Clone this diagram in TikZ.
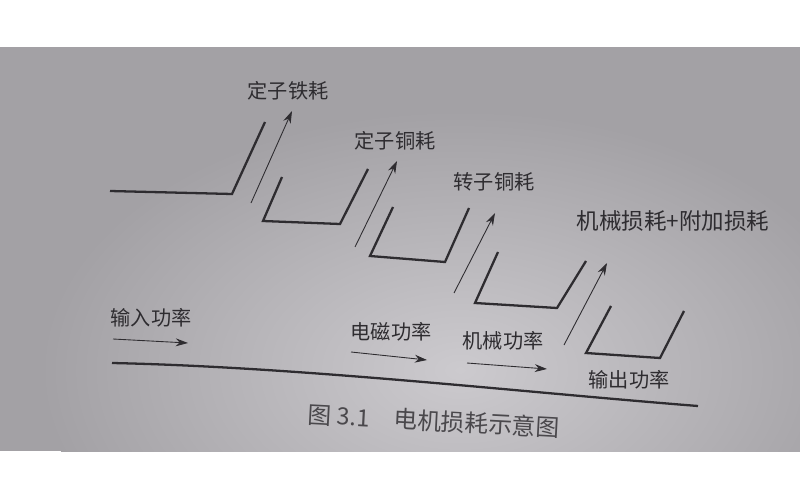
\documentclass[tikz,border=0pt]{standalone}
\usepackage{fontspec}
\newfontfamily\cjk{Noto Sans CJK SC}
\usetikzlibrary{arrows.meta}
\definecolor{paperbase}{HTML}{A3A1A5}
\definecolor{paperlight}{HTML}{CCCACE}
\definecolor{ink}{HTML}{2E2C30}
\definecolor{captionink}{HTML}{4A484C}
\tikzset{
  wall/.style={line width=1.3pt, draw=ink, line join=miter},
  flow/.style={-{Stealth[length=7pt,width=4.5pt]}, line width=0.5pt, draw=ink},
  lbl/.style={font=\cjk\fontsize{11.5}{14}\selectfont, text=ink, inner sep=0pt}
}
\begin{document}
\begin{tikzpicture}[x=0.02cm,y=-0.02cm]
\useasboundingbox (0,0) rectangle (800,500);
\fill[white] (0,0) rectangle (800,500);
\begin{scope}
\clip (0,47) rectangle (800,451);
\fill[paperbase] (0,47) rectangle (800,451);
\shade[inner color=paperlight, outer color=paperbase] (460,370) ellipse (420 and 260);
\end{scope}

\draw[wall] (110,191) -- (232,194) -- (265,122);
\draw[wall] (282,177) -- (263,221) -- (340,224) -- (368,169);
\draw[wall] (393,207) -- (370,256) -- (445,262) -- (469,208);
\draw[wall] (498,252) -- (475,303) -- (557,308) -- (586,261);
\draw[wall] (611,306) -- (586,353) -- (660,358) -- (684,311);
\draw[wall] (112,363) .. controls (300,367) and (520,392) .. (698,406);

\node[lbl] (ironloss) at (288,91) {定子铁耗};
\node[lbl] (statorcu) at (395,141) {定子铜耗};
\node[lbl] (rotorcu) at (494,182) {转子铜耗};
\node[lbl, font=\cjk\fontsize{12.8}{15}\selectfont] (mechloss) at (673,221) {机械损耗+附加损耗};
\node[lbl] (pin) at (151,318) {输入功率};
\node[lbl] (pem) at (391,332) {电磁功率};
\node[lbl] (pmech) at (503,341) {机械功率};
\node[lbl] (pout) at (629,380) {输出功率};
\node[lbl, text=captionink, font=\cjk\fontsize{13.5}{16}\selectfont, rotate=-3] (caption) at (434,421) {图 3.1\quad 电机损耗示意图};

\coordinate (ironA) at (251,203); \coordinate (ironB) at (292,111);
\coordinate (statA) at (355,247); \coordinate (statB) at (397,161);
\coordinate (rotA) at (454,293); \coordinate (rotB) at (495,213);
\coordinate (mechA) at (564,345); \coordinate (mechB) at (607,263);
\draw[flow] (ironA) -- (ironB);
\draw[flow] (statA) -- (statB);
\draw[flow] (rotA) -- (rotB);
\draw[flow] (mechA) -- (mechB);

\coordinate (pinA) at (113,339); \coordinate (pinB) at (188,343);
\coordinate (pemA) at (351,352); \coordinate (pemB) at (427,360);
\coordinate (pmechA) at (467,363); \coordinate (pmechB) at (547,369);
\draw[flow] (pinA) -- (pinB);
\draw[flow] (pemA) -- (pemB);
\draw[flow] (pmechA) -- (pmechB);
\end{tikzpicture}
\end{document}
